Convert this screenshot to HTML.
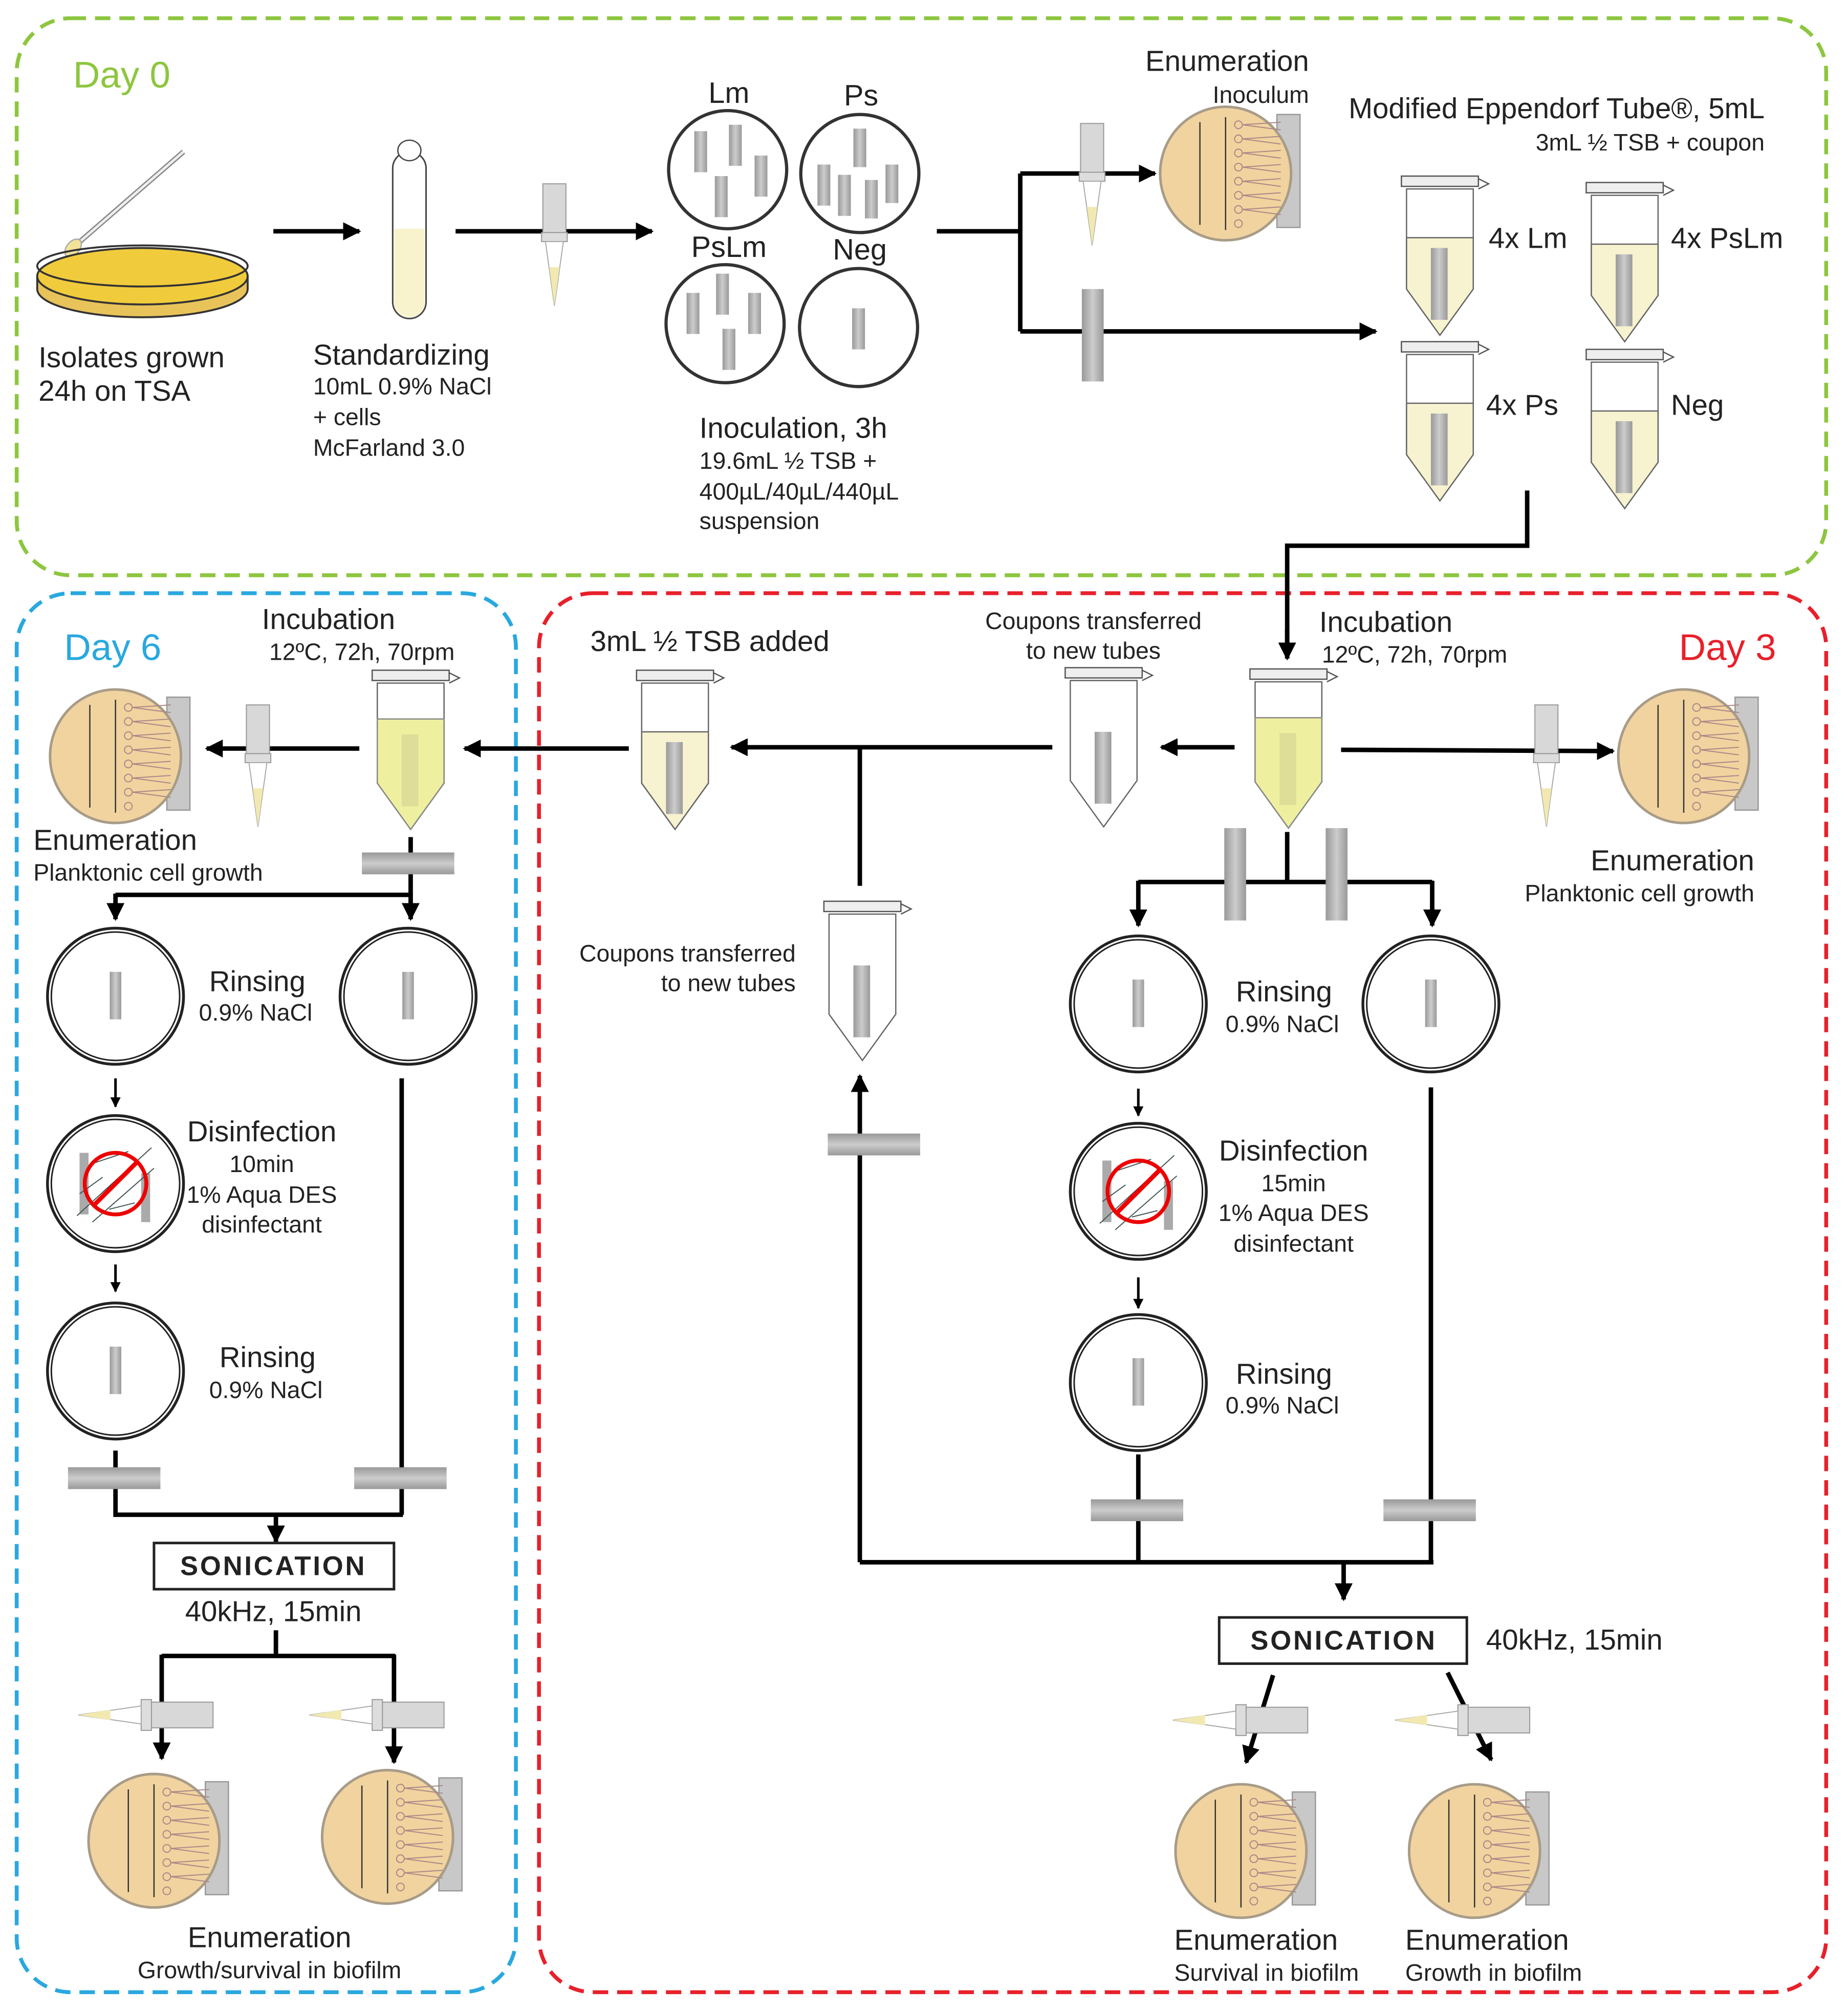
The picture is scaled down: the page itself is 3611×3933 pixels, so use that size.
<!DOCTYPE html>
<html><head><meta charset="utf-8"><style>
html,body{margin:0;padding:0;background:#fff}
svg{display:block}
text{font-family:"Liberation Sans",Arial,sans-serif;fill:#222}
</style></head><body>
<svg width="3611" height="3933" viewBox="0 0 1440 1568" xmlns="http://www.w3.org/2000/svg">
<defs>
<marker id="ah" viewBox="0 0 10 10" refX="9" refY="5" markerWidth="4" markerHeight="4" orient="auto-start-reverse"><path d="M0,0L10,5L0,10z" fill="#000"/></marker>
<linearGradient id="bar" x1="0" x2="1"><stop offset="0" stop-color="#999"/><stop offset=".5" stop-color="#ccc"/><stop offset="1" stop-color="#999"/></linearGradient>
<linearGradient id="barh" x1="0" x2="0" y1="0" y2="1"><stop offset="0" stop-color="#999"/><stop offset=".5" stop-color="#ccc"/><stop offset="1" stop-color="#999"/></linearGradient>
<g id="plate">
<rect x="92" y="6" width="18" height="88" fill="#c8c8c8" stroke="#999" stroke-width="1"/>
<ellipse cx="52" cy="52" rx="51" ry="52" fill="#f1d39f" stroke="#a89c88" stroke-width="2"/>
<line x1="32" y1="12" x2="32" y2="92" stroke="#333" stroke-width="1"/>
<line x1="52" y1="8" x2="52" y2="96" stroke="#333" stroke-width="1"/>
<g stroke="#a88" stroke-width="0.8" fill="none">
<circle cx="62" cy="14" r="3"/><circle cx="62" cy="25" r="3"/><circle cx="62" cy="36" r="3"/><circle cx="62" cy="47" r="3"/><circle cx="62" cy="58" r="3"/><circle cx="62" cy="69" r="3"/><circle cx="62" cy="80" r="3"/><circle cx="62" cy="91" r="3"/>
<path d="M65,14L95,12M65,14L95,18M65,25L95,23M65,25L95,29M65,36L95,34M65,36L95,40M65,47L95,45M65,47L95,51M65,58L95,56M65,58L95,62M65,69L95,67M65,69L95,73M65,80L95,78M65,80L95,84"/>
</g>
</g>
<g id="tube">
<rect x="2" y="0" width="60" height="8" fill="#eee" stroke="#555" stroke-width="1"/>
<path d="M62,2L70,6L62,10" fill="none" stroke="#555"/>
<path d="M6,10H58V88L32,124L6,88Z" fill="#fff" stroke="#666" stroke-width="1"/>
</g>
<g id="tubeL">
<use href="#tube"/>
<path d="M6,48H58V88L32,124L6,88Z" fill="#f7f2cf" stroke="#666" stroke-width="1"/>
<rect x="25" y="56" width="13" height="56" fill="url(#bar)"/>
</g>
<g id="tubeY">
<use href="#tube"/>
<path d="M6,38H58V88L32,124L6,88Z" fill="#eef0a0" stroke="#888" stroke-width="1"/>
<rect x="25" y="50" width="13" height="56" fill="#dede99"/>
</g>
<g id="tubeE">
<use href="#tube"/>
<rect x="25" y="50" width="13" height="56" fill="url(#bar)"/>
</g>
<g id="pipV">
<rect x="0" y="0" width="18" height="38" fill="#d8d8d8" stroke="#999" stroke-width="0.8"/>
<rect x="-1" y="38" width="20" height="7" fill="#ddd" stroke="#999" stroke-width="0.8"/>
<path d="M2,45L16,45L9,95Z" fill="#fff" stroke="#aaa" stroke-width="0.8"/>
<path d="M5,65L13,65L9,95Z" fill="#f1e9b0"/>
</g>
<g id="pipH">
<rect x="55" y="0" width="50" height="20" fill="#d8d8d8" stroke="#999" stroke-width="0.8"/>
<rect x="49" y="-2" width="8" height="24" fill="#ddd" stroke="#999" stroke-width="0.8"/>
<path d="M49,3L49,17L0,10Z" fill="#fff" stroke="#aaa" stroke-width="0.8"/>
<path d="M25,6L25,14L0,10Z" fill="#f1e9b0"/>
</g>
<g id="dish">
<circle cx="0" cy="0" r="53" fill="#fff" stroke="#222" stroke-width="2.2"/>
<circle cx="0" cy="0" r="50" fill="none" stroke="#222" stroke-width="1.2"/>
<rect x="-4.5" y="-19" width="9" height="37" fill="url(#bar)"/>
</g>
<g id="dis">
<circle cx="0" cy="0" r="53" fill="#fff" stroke="#222" stroke-width="2.2"/>
<circle cx="0" cy="0" r="50" fill="none" stroke="#222" stroke-width="1.2"/>
<rect x="-28" y="-24" width="7" height="48" fill="#aaa"/>
<rect x="20" y="-8" width="7" height="38" fill="#aaa"/>
<path d="M-30,25L28,-28M-18,30L30,-12M-28,8L-10,-5M-20,-15L10,-25M-5,20L15,15" stroke="#455" stroke-width="0.8" fill="none"/>
<circle cx="0" cy="0" r="24" fill="none" stroke="#e00" stroke-width="3"/>
<line x1="-16" y1="16" x2="16" y2="-16" stroke="#e00" stroke-width="3.5"/>
</g>
<g id="vbar"><rect x="0" y="0" width="17" height="72" fill="url(#bar)"/></g>
<g id="hbar"><rect x="0" y="0" width="72" height="17" fill="url(#barh)"/></g>
</defs>

<rect x="13" y="14" width="1410" height="434" rx="42" fill="none" stroke="#8dc63f" stroke-width="3" stroke-dasharray="12,7"/>
<rect x="13" y="462" width="389" height="1090" rx="42" fill="none" stroke="#29a8df" stroke-width="3" stroke-dasharray="12,7"/>
<rect x="420" y="462" width="1003" height="1090" rx="42" fill="none" stroke="#e8202a" stroke-width="3" stroke-dasharray="12,7"/>

<g stroke="#000" stroke-width="3.5" fill="none">
<line x1="213" y1="180" x2="280" y2="180" marker-end="url(#ah)"/>
<line x1="355" y1="180" x2="508" y2="180" marker-end="url(#ah)"/>
<path d="M730,180H795"/>
<path d="M795,135V258"/>
<line x1="795" y1="135" x2="900" y2="135" marker-end="url(#ah)"/>
<line x1="795" y1="258" x2="1072" y2="258" marker-end="url(#ah)"/>
<path d="M1190,382V425H1003V500"/>
<line x1="1003" y1="490" x2="1003" y2="513" marker-end="url(#ah)"/>
<line x1="962" y1="582" x2="905" y2="582" marker-end="url(#ah)"/>
<line x1="820" y1="582" x2="570" y2="582" marker-end="url(#ah)"/>
<path d="M670,582V690"/>
<line x1="1045" y1="584" x2="1257" y2="585" marker-end="url(#ah)"/>
<path d="M1003,648V687M887,687H1116"/>
<line x1="887" y1="686" x2="887" y2="721" marker-end="url(#ah)"/>
<line x1="1116" y1="686" x2="1116" y2="721" marker-end="url(#ah)"/>
<path d="M1115,847V1217M887,1133V1217M670,1217H1117"/>
<line x1="670" y1="1217" x2="670" y2="838" marker-end="url(#ah)"/>
<line x1="1047" y1="1217" x2="1047" y2="1246" marker-end="url(#ah)"/>
<line x1="992" y1="1305" x2="971" y2="1373" marker-end="url(#ah)"/>
<line x1="1128" y1="1303" x2="1162" y2="1371" marker-end="url(#ah)"/>
<line x1="280" y1="583" x2="161" y2="583" marker-end="url(#ah)"/>
<line x1="490" y1="583" x2="362" y2="583" marker-end="url(#ah)"/>
<path d="M320,652V697M90,697H321"/>
<line x1="90" y1="696" x2="90" y2="716" marker-end="url(#ah)"/>
<line x1="320" y1="696" x2="320" y2="716" marker-end="url(#ah)"/>
<path d="M313,840V1180M90,1130V1180H314"/>
<line x1="215" y1="1180" x2="215" y2="1201" marker-end="url(#ah)"/>
<path d="M215,1270V1290M126,1290H308"/>
<line x1="126" y1="1289" x2="126" y2="1370" marker-end="url(#ah)"/>
<line x1="307" y1="1289" x2="307" y2="1373" marker-end="url(#ah)"/>
</g>
<g stroke="#000" stroke-width="2" fill="none">
<line x1="887" y1="848" x2="887" y2="869" marker-end="url(#ah)"/>
<line x1="887" y1="995" x2="887" y2="1019" marker-end="url(#ah)"/>
<line x1="90" y1="840" x2="90" y2="862" marker-end="url(#ah)"/>
<line x1="90" y1="985" x2="90" y2="1006" marker-end="url(#ah)"/>
</g>

<text x="57" y="68" font-size="29" style="fill:#8dc63f">Day 0</text>
<line x1="60" y1="190" x2="143" y2="118" stroke="#888" stroke-width="4"/>
<line x1="60" y1="190" x2="143" y2="118" stroke="#eee" stroke-width="2"/>
<ellipse cx="57" cy="193" rx="5" ry="8" fill="#f2e39a" stroke="#aaa" transform="rotate(40 57 193)"/>
<path d="M29,215V225A82,22 0 0 0 193,225V215" fill="#e8c35a" stroke="#333" stroke-width="1.5"/>
<ellipse cx="111" cy="215" rx="82" ry="22" fill="#f0cc3c" stroke="#333" stroke-width="1.5"/>
<ellipse cx="111" cy="207" rx="82" ry="16" fill="none" stroke="#333" stroke-width="1.5"/>
<rect x="306" y="118" width="26" height="130" rx="13" fill="#fff" stroke="#444" stroke-width="1.2"/>
<path d="M307,178H331V235A12,12 0 0 1 307,235Z" fill="#f8f3cc"/>
<ellipse cx="319" cy="117" rx="9" ry="8" fill="#fff" stroke="#444"/>
<use href="#pipV" x="423" y="143"/>
<text x="30" y="286" font-size="22.5">Isolates grown</text>
<text x="30" y="312" font-size="22.5">24h on TSA</text>
<text x="244" y="284" font-size="22.5">Standardizing</text>
<text x="244" y="307" font-size="18.5">10mL 0.9% NaCl</text>
<text x="244" y="331" font-size="18.5">+ cells</text>
<text x="244" y="355" font-size="18.5">McFarland 3.0</text>
<g>
<circle cx="567" cy="132" r="46" fill="#fff" stroke="#333" stroke-width="2.5"/>
<circle cx="670" cy="135" r="46" fill="#fff" stroke="#333" stroke-width="2.5"/>
<circle cx="565" cy="252" r="46" fill="#fff" stroke="#333" stroke-width="2.5"/>
<circle cx="669" cy="255" r="46" fill="#fff" stroke="#333" stroke-width="2.5"/>
<g fill="url(#bar)">
<rect x="541" y="102" width="10" height="32"/><rect x="568" y="97" width="10" height="32"/><rect x="588" y="121" width="10" height="32"/><rect x="557" y="137" width="10" height="32"/>
<rect x="665" y="100" width="10" height="30"/><rect x="637" y="128" width="10" height="32"/><rect x="653" y="136" width="10" height="32"/><rect x="674" y="140" width="10" height="30"/><rect x="690" y="128" width="10" height="30"/>
<rect x="535" y="228" width="10" height="32"/><rect x="558" y="213" width="10" height="32"/><rect x="583" y="228" width="10" height="32"/><rect x="563" y="256" width="10" height="32"/>
<rect x="664" y="240" width="10" height="32"/>
</g>
<text x="568" y="80" font-size="23" text-anchor="middle">Lm</text>
<text x="671" y="82" font-size="23" text-anchor="middle">Ps</text>
<text x="568" y="200" font-size="23" text-anchor="middle">PsLm</text>
<text x="670" y="202" font-size="23" text-anchor="middle">Neg</text>
</g>
<text x="545" y="341" font-size="22.5">Inoculation, 3h</text>
<text x="545" y="365" font-size="18.5">19.6mL ½ TSB +</text>
<text x="545" y="389" font-size="18.5">400µL/40µL/440µL</text>
<text x="545" y="412" font-size="18.5">suspension</text>
<use href="#pipV" x="842" y="96"/>
<use href="#vbar" x="843" y="225"/>
<use href="#plate" x="903" y="83"/>
<text x="1020" y="55" font-size="22.5" text-anchor="end">Enumeration</text>
<text x="1020" y="80" font-size="18.5" text-anchor="end">Inoculum</text>
<text x="1375" y="92" font-size="22.5" text-anchor="end">Modified Eppendorf Tube®, 5mL</text>
<text x="1375" y="117" font-size="18.5" text-anchor="end">3mL ½ TSB + coupon</text>
<use href="#tubeL" x="1090" y="137"/>
<use href="#tubeL" x="1234" y="142"/>
<use href="#tubeL" x="1090" y="266"/>
<use href="#tubeL" x="1234" y="272"/>
<text x="1160" y="193" font-size="22.5">4x Lm</text>
<text x="1302" y="193" font-size="22.5">4x PsLm</text>
<text x="1158" y="323" font-size="22.5">4x Ps</text>
<text x="1302" y="323" font-size="22.5">Neg</text>

<text x="1384" y="514" font-size="29" text-anchor="end" style="fill:#e8202a">Day 3</text>
<text x="1028" y="492" font-size="22.5">Incubation</text>
<text x="1030" y="516" font-size="18.5">12ºC, 72h, 70rpm</text>
<text x="852" y="490" font-size="18.5" text-anchor="middle">Coupons transferred</text>
<text x="852" y="513" font-size="18.5" text-anchor="middle">to new tubes</text>
<text x="460" y="507" font-size="22.5">3mL ½ TSB added</text>
<use href="#tubeY" x="972" y="521"/>
<use href="#tubeE" x="828" y="520"/>
<use href="#tubeL" x="494" y="522"/>
<use href="#tubeE" x="640" y="702"/>
<text x="620" y="749" font-size="18.5" text-anchor="end">Coupons transferred</text>
<text x="620" y="772" font-size="18.5" text-anchor="end">to new tubes</text>
<use href="#pipV" x="1196" y="549"/>
<use href="#plate" x="1260" y="537"/>
<text x="1367" y="678" font-size="22.5" text-anchor="end">Enumeration</text>
<text x="1367" y="702" font-size="18.5" text-anchor="end">Planktonic cell growth</text>
<use href="#vbar" x="954" y="645"/>
<use href="#vbar" x="1033" y="645"/>
<use href="#dish" x="887" y="782"/>
<use href="#dish" x="1115" y="782"/>
<use href="#dis" x="887" y="928"/>
<use href="#dish" x="887" y="1077"/>
<text x="963" y="780" font-size="22.5">Rinsing</text>
<text x="955" y="804" font-size="18.5">0.9% NaCl</text>
<text x="1008" y="904" font-size="22.5" text-anchor="middle">Disinfection</text>
<text x="1008" y="928" font-size="18.5" text-anchor="middle">15min</text>
<text x="1008" y="951" font-size="18.5" text-anchor="middle">1% Aqua DES</text>
<text x="1008" y="975" font-size="18.5" text-anchor="middle">disinfectant</text>
<text x="963" y="1078" font-size="22.5">Rinsing</text>
<text x="955" y="1101" font-size="18.5">0.9% NaCl</text>
<use href="#hbar" x="850" y="1168"/>
<use href="#hbar" x="1078" y="1168"/>
<use href="#hbar" x="645" y="883"/>
<rect x="950" y="1260" width="193" height="36" fill="#fff" stroke="#222" stroke-width="2"/>
<text x="1047" y="1285" font-size="21" font-weight="bold" text-anchor="middle" letter-spacing="1.5">SONICATION</text>
<text x="1158" y="1285" font-size="22.5">40kHz, 15min</text>
<use href="#pipH" x="914" y="1330"/>
<use href="#pipH" x="1087" y="1330"/>
<use href="#plate" x="915" y="1390"/>
<use href="#plate" x="1097" y="1390"/>
<text x="915" y="1519" font-size="22.5">Enumeration</text>
<text x="915" y="1543" font-size="18.5">Survival  in biofilm</text>
<text x="1095" y="1519" font-size="22.5">Enumeration</text>
<text x="1095" y="1543" font-size="18.5">Growth in biofilm</text>

<text x="50" y="514" font-size="29" style="fill:#29a8df">Day 6</text>
<text x="256" y="490" font-size="22.5" text-anchor="middle">Incubation</text>
<text x="282" y="514" font-size="18.5" text-anchor="middle">12ºC, 72h, 70rpm</text>
<use href="#tubeY" x="288" y="522"/>
<use href="#pipV" x="192" y="549"/>
<use href="#plate" x="38" y="537"/>
<text x="26" y="662" font-size="22.5">Enumeration</text>
<text x="26" y="686" font-size="18.5">Planktonic cell growth</text>
<use href="#hbar" x="282" y="664"/>
<use href="#dish" x="90" y="776"/>
<use href="#dish" x="318" y="776"/>
<use href="#dis" x="90" y="922"/>
<use href="#dish" x="90" y="1068"/>
<text x="163" y="772" font-size="22.5">Rinsing</text>
<text x="155" y="795" font-size="18.5">0.9% NaCl</text>
<text x="204" y="889" font-size="22.5" text-anchor="middle">Disinfection</text>
<text x="204" y="913" font-size="18.5" text-anchor="middle">10min</text>
<text x="204" y="937" font-size="18.5" text-anchor="middle">1% Aqua DES</text>
<text x="204" y="960" font-size="18.5" text-anchor="middle">disinfectant</text>
<text x="171" y="1065" font-size="22.5">Rinsing</text>
<text x="163" y="1089" font-size="18.5">0.9% NaCl</text>
<use href="#hbar" x="53" y="1143"/>
<use href="#hbar" x="276" y="1143"/>
<rect x="120" y="1202" width="187" height="36" fill="#fff" stroke="#222" stroke-width="2"/>
<text x="213" y="1227" font-size="21" font-weight="bold" text-anchor="middle" letter-spacing="1.5">SONICATION</text>
<text x="213" y="1263" font-size="22.5" text-anchor="middle">40kHz, 15min</text>
<use href="#pipH" x="61" y="1326"/>
<use href="#pipH" x="241" y="1326"/>
<use href="#plate" x="68" y="1382"/>
<use href="#plate" x="250" y="1379"/>
<text x="210" y="1517" font-size="22.5" text-anchor="middle">Enumeration</text>
<text x="210" y="1541" font-size="18.5" text-anchor="middle">Growth/survival in biofilm</text>
</svg>
</body></html>
